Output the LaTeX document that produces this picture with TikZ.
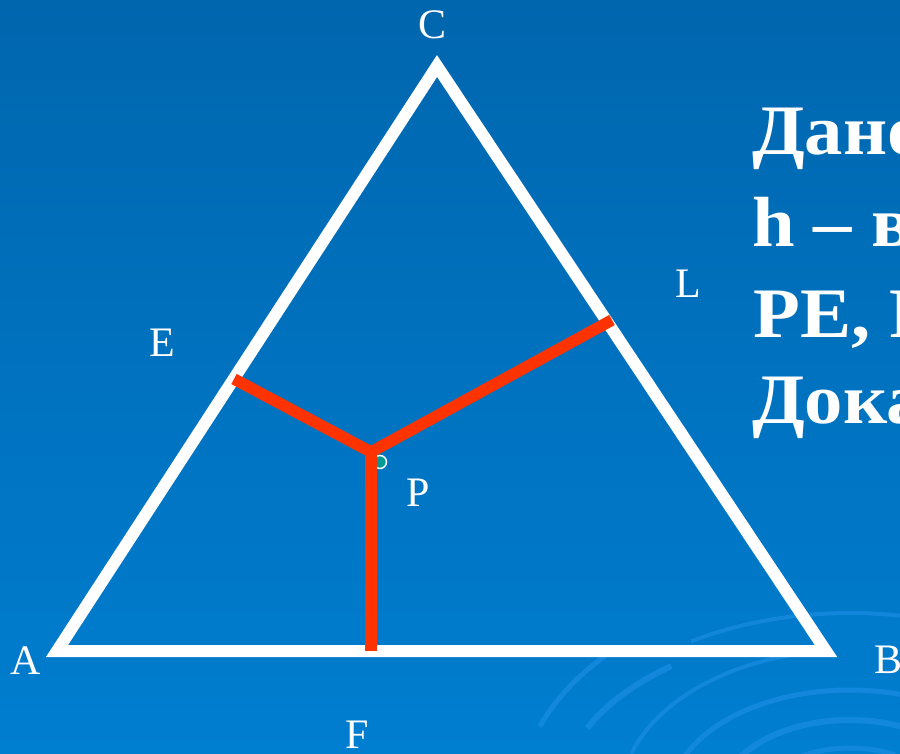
\documentclass[tikz,border=0pt]{standalone}
\usepackage{fontspec}
\setmainfont{Liberation Serif}
\newfontfamily\givenfont[FakeStretch=1.08]{Liberation Serif}
\usetikzlibrary{positioning}
\definecolor{bgtop}{HTML}{0066AE}
\definecolor{bgbot}{HTML}{007ED0}
\definecolor{perpred}{HTML}{FF3300}
\definecolor{swirlblue}{HTML}{2A96EE}
\definecolor{dotteal}{HTML}{009B95}

\begin{document}
\begin{tikzpicture}[x=1pt, y=-1pt,
    side/.style     ={draw=white, line width=12pt, line join=miter},
    perp/.style     ={draw=perpred, line width=11.5pt},
    vlabel/.style   ={text=white, inner sep=0pt, font=\fontsize{42}{42}\selectfont},
    given/.style    ={text=white, inner sep=0pt, anchor=base west,
                      font=\givenfont\bfseries\fontsize{71}{71}\selectfont},
    swirlarc/.style ={draw=swirlblue, opacity=0.45}
]
    % background
    \fill[top color=bgtop, bottom color=bgbot] (0,0) rectangle (900,754);
    \useasboundingbox (0,0) rectangle (900,754);
    \begin{scope}
        \clip (0,0) rectangle (900,754);
        \foreach \rx/\ry/\a/\b/\w in {300/187/238/300/4, 330/215/200/222/5, 290/170/205/232/6,
                                       230/150/198/262/4, 180/110/200/300/5, 130/80/195/300/6,
                                       90/52/190/300/5}
            \draw[swirlarc, line width=\w pt] (850,800) ++(\a:\rx\space and \ry)
                arc[start angle=\a, end angle=\b, x radius=\rx, y radius=\ry];
    \end{scope}

    % triangle
    \coordinate (A) at (57,651);
    \coordinate (B) at (826,651);
    \coordinate (C) at (437,66);
    \draw[side] (A) -- (B) -- (C) -- cycle;

    % point P and feet of the perpendiculars
    \coordinate (P) at (371,452);
    \coordinate (E) at (234,379);
    \coordinate (L) at (612,320);
    \coordinate (F) at (371,651);
    \node[circle, fill=dotteal, draw=white, line width=1.5pt, minimum size=13pt,
          inner sep=0pt] (pdot) at (380,462) {};
    \draw[perp] (E) -- (P) -- (L);
    \draw[perp] (P) -- (F);

    % labels
    \node[vlabel] (lA) at (26,661)  {A};
    \node[vlabel] (lB) at (888,660) {B};
    \node[vlabel] (lC) at (433,25)  {C};
    \node[vlabel] (lE) at (162,343) {E};
    \node[vlabel] (lL) at (688,284) {L};
    \node[vlabel] (lP) at (418,493) {P};
    \node[vlabel] (lF) at (357,735) {F};

    % given text, cut by the right edge
    \begin{scope}
        \clip (0,0) rectangle (900,754);
        \node[given] (t1) at (752,155) {Дано:};
        \node[given] (t2) at (752,247) {h – высота};
        \node[given] (t3) at (753,337) {PE, PL, PF};
        \node[given] (t4) at (752,423) {Доказать:};
    \end{scope}
\end{tikzpicture}
\end{document}
